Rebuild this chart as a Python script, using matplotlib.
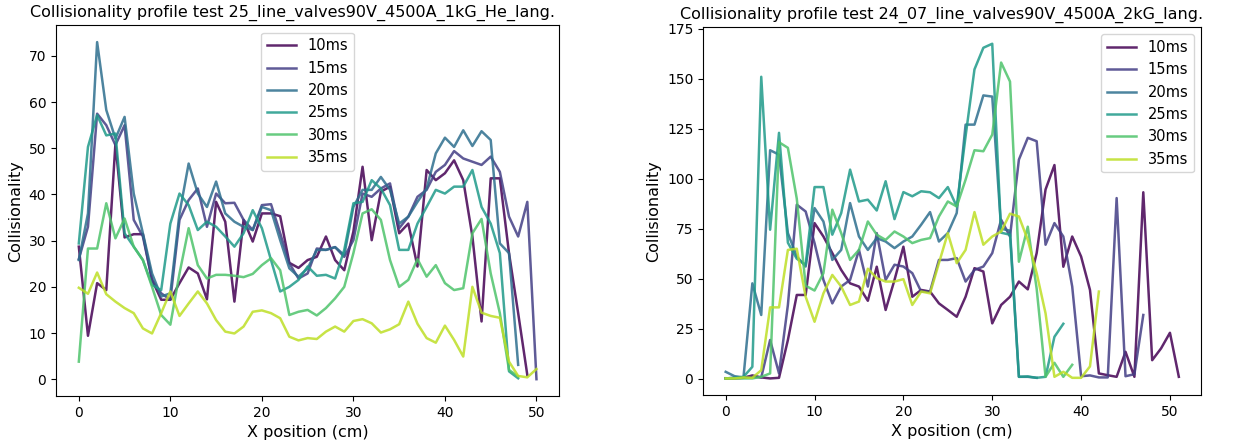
import numpy as np
import matplotlib
matplotlib.use("Agg")
import matplotlib.pyplot as plt

labels = ["10ms", "15ms", "20ms", "25ms", "30ms", "35ms"]

title_left = "Collisionality profile test 25_line_valves90V_4500A_1kG_He_lang."
title_right = "Collisionality profile test 24_07_line_valves90V_4500A_2kG_lang."

# Left panel (x = 0..50 cm)
left_10 = [28.7, 9.4, 20.8, 19.3, 51, 30.7, 31.4, 31.4, 21.5, 17.2, 17.2, 20.8, 24.2, 22.9, 17.3, 38.4, 34.1, 16.8,
           34.5, 29.8, 35.9, 35.9, 35.3, 25.2, 24.1, 25.8, 26.5, 30.9, 25.8, 23.6, 32, 46, 30.1, 40.6, 41.7, 31.6,
           33.7, 24.4, 45.3, 43.1, 44.6, 47.4, 43.1, 30.9, 12.5, 43.5, 43.5, 27.3, 14.3, 0.9]
left_15 = [26, 33, 57.5, 55, 50.7, 55, 34.5, 30.9, 21.5, 18.6, 17.2, 34.5, 38.8, 41.3, 33, 40.2, 38.1, 38.2,
           34.5, 32.3, 37.7, 37.9, 31.6, 25.1, 21.8, 22.9, 28.3, 28, 28.6, 26.5, 30.1, 40.2, 39.5, 41.3, 42.4, 32.7,
           35.2, 39.5, 41, 44.9, 46.4, 49.4, 47.8, 47.1, 46.4, 48.2, 44.9, 35.2, 30.9, 38.4, 0]
left_20 = [25.8, 35.9, 73, 58.3, 52.1, 56.8, 40.2, 31.6, 22.9, 17.9, 18.6, 35.9, 46.7, 40.2, 37.3, 42.8, 35.9, 34.1,
           33, 32.3, 37.3, 36.6, 30.1, 24, 22.2, 24, 28, 28, 28.6, 26.9, 37.3, 41, 41, 43.8, 41, 33.7,
           35.2, 38.4, 41.3, 48.9, 52.3, 50.3, 53.9, 50.5, 53.7, 51.8, 29.4, 27.3, 3.1]
left_25 = [29.4, 50.3, 57.2, 52.8, 53.2, 31.6, 28.7, 25.8, 20.4, 19.3, 33.7, 40.2, 37.7, 32.3, 34.1, 33, 30.9, 28.7,
           31.6, 36.6, 32.7, 25.8, 19, 20, 21.5, 24.4, 22.4, 22.6, 21.8, 28, 38.1, 38.4, 43.1, 41.3, 37.7, 28,
           28, 33.7, 37.3, 41, 40.2, 41.7, 41.7, 45.3, 37.3, 33.7, 27.3, 1.7, 0.2]
left_30 = [3.8, 28.3, 28.3, 38.1, 30.5, 34.8, 28.7, 25.8, 20, 13.9, 11.8, 22.9, 32.7, 24.7, 21.8, 22.6, 22.6, 22.4,
           22.1, 22.8, 24.7, 26.2, 23.6, 13.9, 14.6, 15, 13.8, 15.4, 17.5, 20, 27.3, 35.9, 36.8, 34.5, 25.8, 20,
           21.5, 26, 22.2, 24.7, 20.8, 19.3, 19.7, 31.6, 34.7, 22.9, 14.3, 2, 0.6]
left_35 = [19.8, 18.5, 23.1, 18.4, 16.8, 15.4, 14.3, 11, 9.9, 14.3, 19, 13.7, 16.4, 19, 16.4, 12.8, 10.3, 9.9,
           11.4, 14.6, 14.9, 14.3, 13.2, 9.2, 8.4, 8.9, 8.7, 10.3, 11.4, 10.3, 12.6, 13, 12.1, 10.1, 10.8, 11.9,
           16.8, 12, 8.9, 7.9, 11.6, 8.5, 4.9, 20, 14.4, 13.7, 13.3, 3.8, 0.7, 0.4, 2.2]

# Right panel (x = 0..51 cm)
right_10 = [0.3, 0.2, 0.5, 1.7, 0.7, 0.2, 0.5, 19.4, 41.9, 41.9, 77.8, 71.1, 62.8, 54.4, 47.7, 46.1, 39, 56, 34.4,
            49.4, 66, 41, 44.4, 43.6, 37.7, 34.4, 31, 41, 55.3, 53.6, 27.7, 36.9, 41, 48.6, 44.7, 62.8, 94.6, 106.8,
            56, 71.1, 61.1, 44.4, 2.7, 1.8, 1, 13.5, 1, 93.2, 9.3, 15.2, 23, 1]
right_15 = [0.2, 0.5, 0.7, 1, 0.7, 19.4, 2.7, 36.9, 87, 83.6, 67.8, 49.4, 37.7, 46.1, 49.4, 64.4, 46.1, 72.8, 49.4,
            57, 56.1, 52.8, 43.6, 43.6, 59.4, 59.4, 60.3, 48.6, 54.4, 56.1, 62.8, 79.5, 71.1, 109.5, 120.4, 118.7,
            67, 77.8, 71.1, 46.1, 1.3, 1.7, 0.7, 0.7, 90.3, 1.3, 2.3, 31.9]
right_20 = [3.5, 1.3, 0.7, 47.7, 31.9, 114.2, 112, 72.8, 61.1, 56.1, 85.3, 78.6, 59.4, 64.4, 87.8, 71.1, 64.4, 70.3,
            68.6, 65.3, 68.6, 71.1, 77, 83.3, 68.6, 72.8, 82.8, 127, 127, 141.6, 141, 75, 74, 1, 1, 0.5]
right_25 = [0.2, 0.5, 1, 6, 150.9, 74.5, 122.9, 68, 60, 57, 95.8, 95.8, 72, 82.8, 104.5, 88.6, 89.5, 84.1, 98.7,
            79.8, 93.3, 91.2, 93.7, 93.2, 90.3, 95.8, 86.1, 121.2, 154.6, 165.4, 167.4, 73, 72, 1, 1.2, 0.5, 1, 21, 27.5]
right_30 = [0.2, 0.2, 0.2, 0.2, 1, 2.7, 118.2, 115.4, 90, 46.5, 44.1, 52.8, 84.5, 72.8, 59.4, 64.4, 78.6, 72, 69.4,
            73.6, 71.1, 67.8, 69.4, 70.3, 81.1, 88.6, 86.1, 99.5, 114.2, 113.7, 122, 158, 148.5, 58.5, 76, 45, 1, 8, 1, 7]
right_35 = [0.2, 0.2, 0.7, 0.5, 4.3, 35.7, 35.7, 64.4, 65, 41, 28.5, 42.7, 51.9, 46.1, 36.9, 38.6, 55, 50.3, 48.6,
            48.6, 49.8, 36.9, 43.6, 42.7, 57.8, 72.8, 57.8, 64.4, 83.3, 67, 71.1, 73.6, 82.5, 81.1, 69.4, 52.8, 32.7,
            1, 3.5, 0.5, 0.5, 6.2, 43.6]

left_series = [left_10, left_15, left_20, left_25, left_30, left_35]
right_series = [right_10, right_15, right_20, right_25, right_30, right_35]

colors = plt.cm.viridis(np.linspace(0, 0.9, 6))

fig = plt.figure(figsize=(12.43, 4.43), dpi=100)
ax1 = fig.add_axes([0.045, 0.106, 0.405, 0.837])
ax2 = fig.add_axes([0.5656, 0.108, 0.401, 0.831])

for ax, series, title, loc, tx in [(ax1, left_series, title_left, "upper center", 0.47),
                                   (ax2, right_series, title_right, "upper right", 0.478)]:
    for y, c, lab in zip(series, colors, labels):
        ax.plot(np.arange(len(y)), y, color=c, alpha=0.85, lw=1.8, label=lab)
    ax.set_title(title, fontsize=11.5, x=tx)
    ax.set_xlabel("X position (cm)", fontsize=11.5)
    ax.set_ylabel("Collisionality", fontsize=11.5)
    ax.tick_params(labelsize=10)
    ax.legend(loc=loc, fontsize=10.5)

fig.savefig("out.png", dpi=100)
